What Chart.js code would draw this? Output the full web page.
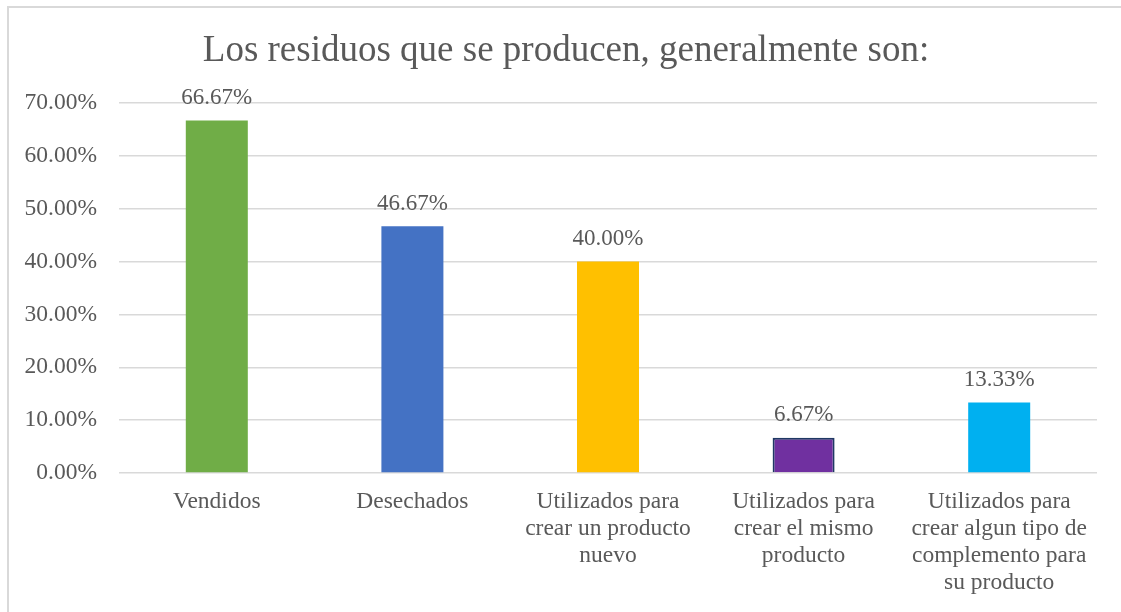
<!DOCTYPE html>
<html>
<head>
<meta charset="utf-8">
<script src="https://cdn.jsdelivr.net/npm/chart.js@4"></script>
<style>
  html, body { margin: 0; padding: 0; background: #fff; }
  #wrap { position: relative; width: 1121px; height: 612px; overflow: hidden; }
  #frame { position: absolute; left: 7px; top: 6px; width: 1120px; height: 700px; border: 2px solid #d9d9d9; box-sizing: border-box; }
  canvas { position: absolute; left: 0; top: 0; }
</style>
</head>
<body>
<div id="wrap">
  <div id="frame"></div>
  <canvas id="c" width="1121" height="612"></canvas>
</div>
<script>
const titleText = "Los residuos que se producen, generalmente son:";
const categories = [
  "Vendidos",
  "Desechados",
  ["Utilizados para", "crear un producto", "nuevo"],
  ["Utilizados para", "crear el mismo", "producto"],
  ["Utilizados para", "crear algun tipo de", "complemento para", "su producto"]
];
const values = [66.67, 46.67, 40.00, 6.67, 13.33];
const barColors = ["#70AD47", "#4472C4", "#FFC000", "#7030A0", "#00B0F0"];
const barBorders = ["#70AD47", "#4472C4", "#FFC000", "#1F3864", "#00B0F0"];
const borderWidths = [0, 0, 0, 2, 0];

const FONT = "'Liberation Serif', 'Times New Roman', serif";
const TXT = "#595959";

const valueLabels = {
  id: "valueLabels",
  afterDatasetsDraw(chart) {
    const ctx = chart.ctx;
    const meta = chart.getDatasetMeta(0);
    ctx.save();
    ctx.font = "23px " + FONT;
    ctx.fillStyle = TXT;
    ctx.textAlign = "center";
    ctx.textBaseline = "bottom";
    meta.data.forEach((bar, i) => {
      ctx.fillText(values[i].toFixed(2) + "%", bar.x, bar.y - 11);
    });
    ctx.restore();
  }
};

const titleDraw = {
  id: "titleDraw",
  afterDraw(chart) {
    const ctx = chart.ctx;
    ctx.save();
    ctx.font = "37px " + FONT;
    ctx.fillStyle = TXT;
    ctx.textAlign = "center";
    ctx.textBaseline = "middle";
    ctx.fillText(titleText, 566, 51);
    ctx.restore();
  }
};

new Chart(document.getElementById("c"), {
  type: "bar",
  data: {
    labels: categories,
    datasets: [{
      data: values,
      backgroundColor: barColors,
      borderColor: barBorders,
      borderWidth: borderWidths,
      categoryPercentage: 1,
      barPercentage: 0.317
    }]
  },
  options: {
    responsive: false,
    animation: false,
    devicePixelRatio: 1,
    layout: { padding: { left: 0, right: 24, top: 103, bottom: 0 } },
    plugins: {
      legend: { display: false },
      tooltip: { enabled: false },
      title: { display: false }
    },
    scales: {
      x: {
        grid: { display: false, drawTicks: false },
        border: { display: false },
        ticks: {
          color: TXT,
          font: { family: FONT, size: 23.5, lineHeight: 1.15 },
          padding: 15,
          maxRotation: 0,
          autoSkip: false
        },
        afterFit(scale) { scale.height = 139; }
      },
      y: {
        min: 0,
        max: 70,
        grid: { color: "#d9d9d9", lineWidth: 1.5, drawTicks: false },
        border: { display: false },
        ticks: {
          stepSize: 10,
          color: TXT,
          font: { family: FONT, size: 23.5 },
          padding: 22,
          callback: v => v.toFixed(2) + "%"
        },
        afterFit(scale) { scale.width = 119; }
      }
    }
  },
  plugins: [valueLabels, titleDraw]
});
</script>
</body>
</html>
